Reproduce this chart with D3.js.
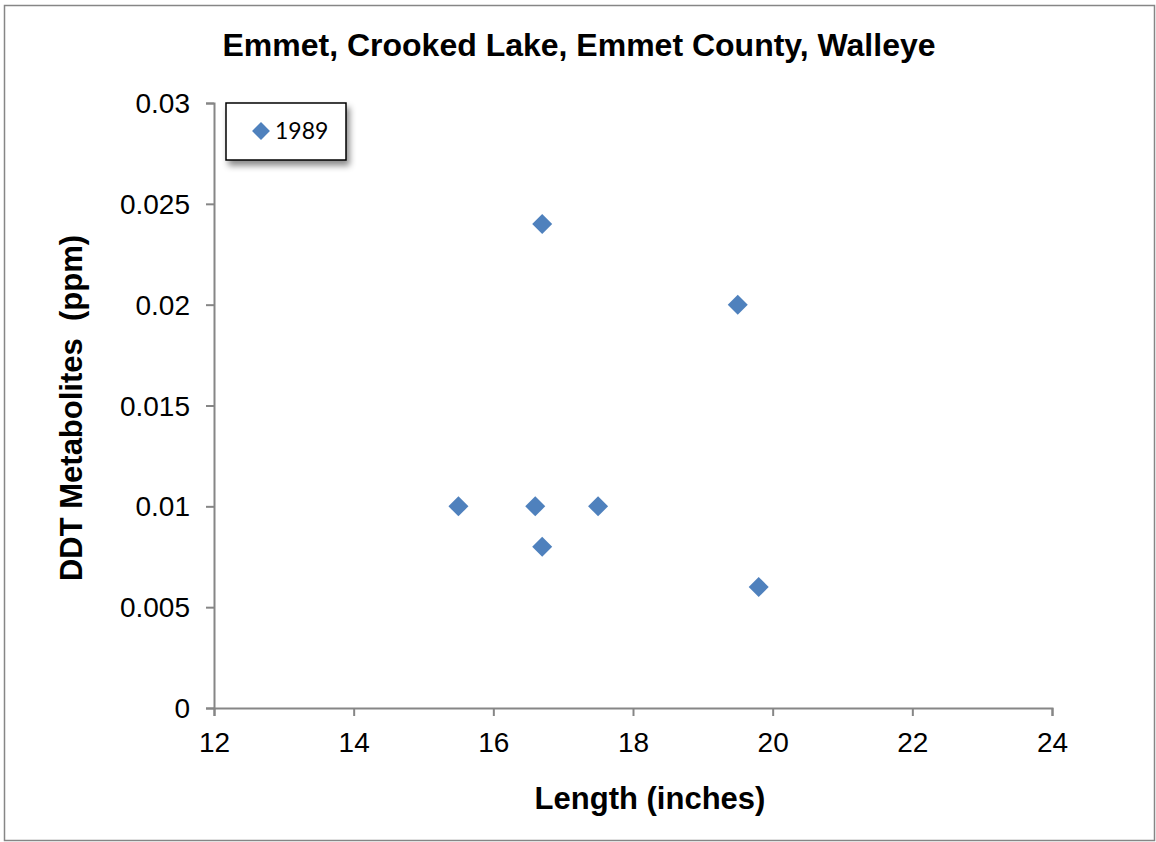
<!DOCTYPE html>
<html lang="en">
<head>
    <meta charset="UTF-8">
    <title>Emmet, Crooked Lake, Walleye</title>
    <script src="https://d3js.org/d3.v7.min.js"></script>
    <style>
        body { margin: 0; background: #fff; }
        svg { display: block; }
    </style>
</head>
<body>
    <svg id="chart" width="1156" height="842"></svg>
    <script>
        // data
        var lengths = [15.5, 16.6, 16.7, 16.7, 17.5, 19.5, 19.8];
        var ddt = [0.01, 0.01, 0.024, 0.008, 0.01, 0.02, 0.006];
        var xTicks = [12, 14, 16, 18, 20, 22, 24];
        var yTicks = [0, 0.005, 0.01, 0.015, 0.02, 0.025, 0.03];
        var seriesName = '1989';

        var points = lengths.map(function(l, i) { return {x: l, y: ddt[i]}; });

        var svg = d3.select('#chart');
        var axisColor = '#868686';
        var markColor = '#4f81bd';
        var font = 'Liberation Sans, Arial, sans-serif';

        // outer frame
        svg.append('rect')
            .attr('x', 4.5).attr('y', 5.5)
            .attr('width', 1150).attr('height', 835)
            .attr('fill', 'none').attr('stroke', axisColor).attr('stroke-width', 1.5);

        var x = d3.scaleLinear().domain([12, 24]).range([214, 1052]);
        var y = d3.scaleLinear().domain([0, 0.03]).range([708, 103]);

        // axes
        var xAxis = svg.append('g')
            .attr('transform', 'translate(0,708)')
            .call(d3.axisBottom(x).tickValues(xTicks).tickSize(8).tickPadding(16).tickFormat(d3.format('d')));
        var yAxis = svg.append('g')
            .attr('transform', 'translate(214,0)')
            .call(d3.axisLeft(y).tickValues(yTicks).tickSize(8).tickPadding(16).tickFormat(function(d) { return d === 0 ? '0' : String(+d.toFixed(3)); }));

        [xAxis, yAxis].forEach(function(a) {
            a.selectAll('path, line').attr('stroke', axisColor).attr('stroke-width', 2);
            a.selectAll('text')
                .attr('fill', '#000')
                .style('font-family', font)
                .style('font-size', '28px');
        });
        yAxis.selectAll('text').attr('dy', '0.34em');

        // points
        var diamond = d3.symbol().type(d3.symbolSquare).size(200);
        svg.append('g')
            .selectAll('path')
            .data(points)
            .join('path')
            .attr('d', diamond)
            .attr('transform', function(d) { return 'translate(' + x(d.x) + ',' + y(d.y) + ') rotate(45)'; })
            .attr('fill', markColor);

        // title and axis labels
        svg.append('text')
            .attr('x', 579).attr('y', 56)
            .attr('text-anchor', 'middle')
            .style('font-family', font)
            .style('font-weight', 'bold').style('font-size', '32px')
            .text('Emmet, Crooked Lake, Emmet County, Walleye');

        svg.append('text')
            .attr('x', 650).attr('y', 809)
            .attr('text-anchor', 'middle')
            .style('font-family', font)
            .style('font-weight', 'bold').style('font-size', '31px')
            .text('Length (inches)');

        svg.append('text')
            .attr('transform', 'translate(82,408) rotate(-90)')
            .attr('text-anchor', 'middle')
            .style('font-family', font)
            .style('font-weight', 'bold').style('font-size', '31px')
            .style('white-space', 'pre')
            .text('DDT Metabolites  (ppm)');

        // legend with drop shadow
        var defs = svg.append('defs');
        var f = defs.append('filter').attr('id', 'shadow').attr('x', '-20%').attr('y', '-20%').attr('width', '150%').attr('height', '160%');
        f.append('feDropShadow').attr('dx', 3).attr('dy', 5).attr('stdDeviation', 3).attr('flood-color', '#000').attr('flood-opacity', 0.45);

        var legend = svg.append('g').attr('transform', 'translate(226,103)');
        legend.append('rect')
            .attr('width', 120).attr('height', 57)
            .attr('fill', '#fff').attr('stroke', '#000').attr('stroke-width', 1.5)
            .attr('filter', 'url(#shadow)');
        legend.append('path')
            .attr('d', d3.symbol().type(d3.symbolSquare).size(160))
            .attr('transform', 'translate(35,28) rotate(45)')
            .attr('fill', markColor);
        legend.append('text')
            .attr('x', 49).attr('y', 36)
            .style('font-family', 'Lato, Carlito, Calibri, sans-serif')
            .style('font-size', '23px')
            .text(seriesName);
    </script>
</body>
</html>
